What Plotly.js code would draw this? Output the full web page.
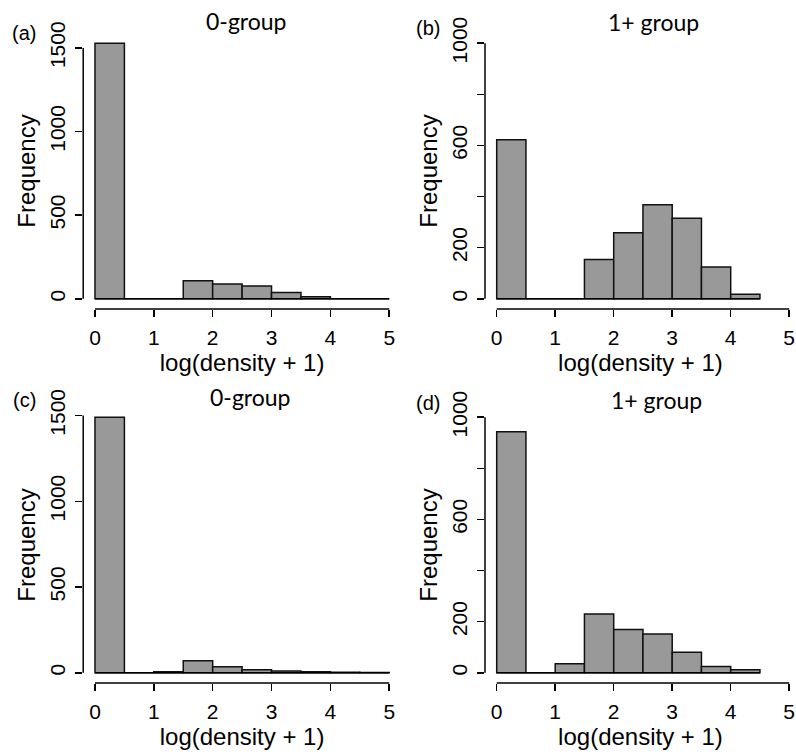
<!DOCTYPE html>
<html>
<head>
<meta charset="utf-8">
<script src="https://cdn.plot.ly/plotly-3.0.1.min.js"></script>
<style>html,body{margin:0;padding:0;background:#fff;}#chart{width:796px;height:756px;}</style>
</head>
<body>
<div id="chart"></div>
<script>
// ---- data ----
const binStarts = [0, 0.5, 1, 1.5, 2, 2.5, 3, 3.5, 4, 4.5];
const binWidth = 0.5;
const countsA = [1528, 0, 0, 108, 88, 76, 38, 12, 0, 0];      // (a) 0-group
const countsB = [622, 0, 0, 154, 258, 368, 315, 124, 18];     // (b) 1+ group
const countsC = [1490, 0, 6, 70, 35, 18, 10, 6, 3, 1];        // (c) 0-group
const countsD = [943, 0, 35, 230, 169, 152, 80, 25, 12];      // (d) 1+ group
const xTicks = [0, 1, 2, 3, 4, 5];
const yTicks0 = [0, 500, 1000, 1500];
const yTicks0Text = ['0', '500', '1000', '1500'];
const yTicks1 = [0, 200, 400, 600, 800, 1000];
const yTicks1Text = ['0', '200', '', '600', '', '1000'];
const panelTitles = ['0-group', '1+ group', '0-group', '1+ group'];
const panelLetters = ['(a)', '(b)', '(c)', '(d)'];
const xTitle = 'log(density + 1)';
const yTitle = 'Frequency';

// ---- layout geometry ----
const W = 796, H = 756;
const colDom = [[83.2 / W, 401 / W], [485 / W, 1]];
const colRange = [[-0.2, 5.2], [-0.2, 5.116]];
const rowDom = [[1 - 309 / H, 1 - 33 / H], [1 - 683 / H, 1 - 407 / H]];

const panels = [
  {counts: countsA, ylim: Math.max(...countsA), yt: yTicks0, ytt: yTicks0Text, col: 0, row: 0},
  {counts: countsB, ylim: 1000, yt: yTicks1, ytt: yTicks1Text, col: 1, row: 0},
  {counts: countsC, ylim: Math.max(...countsC), yt: yTicks0, ytt: yTicks0Text, col: 0, row: 1},
  {counts: countsD, ylim: 1000, yt: yTicks1, ytt: yTicks1Text, col: 1, row: 1}
];

const tickFont = {family: 'Liberation Sans, Arial, sans-serif', size: 21, color: '#000'};
const titleFont = {family: 'Liberation Sans, Arial, sans-serif', size: 24, color: '#000'};
const traces = [];
const layout = {
  width: W, height: H,
  margin: {l: 0, r: 0, t: 0, b: 0},
  paper_bgcolor: '#fff', plot_bgcolor: '#fff',
  showlegend: false,
  bargap: 0,
  shapes: [],
  annotations: []
};

const titlePos = [[246, 21], [653, 22], [250, 397], [656, 400]];
const letterPos = [[24, 33], [428, 28], [25, 400], [428, 403]];

panels.forEach((p, i) => {
  const n = i + 1;
  const xa = n === 1 ? 'x' : 'x' + n;
  const ya = n === 1 ? 'y' : 'y' + n;
  const xs = p.counts.map((_, k) => binStarts[k] + binWidth / 2);
  // baseline drawn by R for zero-height bins
  const lastEdge = binStarts[p.counts.length - 1] + binWidth;
  traces.push({
    type: 'scatter', mode: 'lines', x: [binStarts[0], lastEdge], y: [0, 0],
    xaxis: xa, yaxis: ya, line: {color: '#000', width: 1.5}, hoverinfo: 'skip'
  });
  traces.push({
    type: 'bar', x: xs, y: p.counts, width: binWidth,
    xaxis: xa, yaxis: ya,
    marker: {color: '#999999', line: {color: '#111', width: 1.5}}
  });
  const common = {
    showgrid: false, zeroline: false, showline: false,
    ticks: 'outside', ticklen: 7, tickwidth: 1.5, tickcolor: '#000',
    tickfont: tickFont, fixedrange: true
  };
  layout['xaxis' + (n === 1 ? '' : n)] = Object.assign({}, common, {
    domain: colDom[p.col], range: colRange[p.col], anchor: ya,
    tickmode: 'array', tickvals: xTicks, ticktext: xTicks.map(String),
    ticklabelstandoff: 3,
    title: {text: xTitle, font: titleFont, standoff: 0}
  });
  layout['yaxis' + (n === 1 ? '' : n)] = Object.assign({}, common, {
    domain: rowDom[p.row], range: [-0.04 * p.ylim, 1.04 * p.ylim], anchor: xa,
    tickmode: 'array', tickvals: p.yt, ticktext: p.ytt, tickangle: -90,
    ticklabelstandoff: 2,
    title: {text: yTitle, font: titleFont, standoff: 3}
  });
  layout.shapes.push({type: 'line', xref: xa, yref: ya + ' domain',
    x0: xTicks[0], x1: xTicks[xTicks.length - 1], y0: 0, y1: 0,
    line: {color: '#000', width: 1.5}});
  layout.shapes.push({type: 'line', xref: xa + ' domain', yref: ya,
    x0: 0, x1: 0, y0: p.yt[0], y1: p.yt[p.yt.length - 1],
    line: {color: '#000', width: 1.5}});
  layout.annotations.push({text: panelTitles[i], xref: 'paper', yref: 'paper',
    x: titlePos[i][0] / W, y: 1 - titlePos[i][1] / H, showarrow: false,
    xanchor: 'center', yanchor: 'middle',
    font: {family: 'Lato, Open Sans, sans-serif', size: 23, color: '#000'}});
  layout.annotations.push({text: panelLetters[i], xref: 'paper', yref: 'paper',
    x: letterPos[i][0] / W, y: 1 - letterPos[i][1] / H, showarrow: false,
    xanchor: 'center', yanchor: 'middle',
    font: {family: 'Liberation Sans, Arial, sans-serif', size: 20, color: '#000'}});
});

Plotly.newPlot('chart', traces, layout, {displayModeBar: false, staticPlot: true});
</script>
</body>
</html>
